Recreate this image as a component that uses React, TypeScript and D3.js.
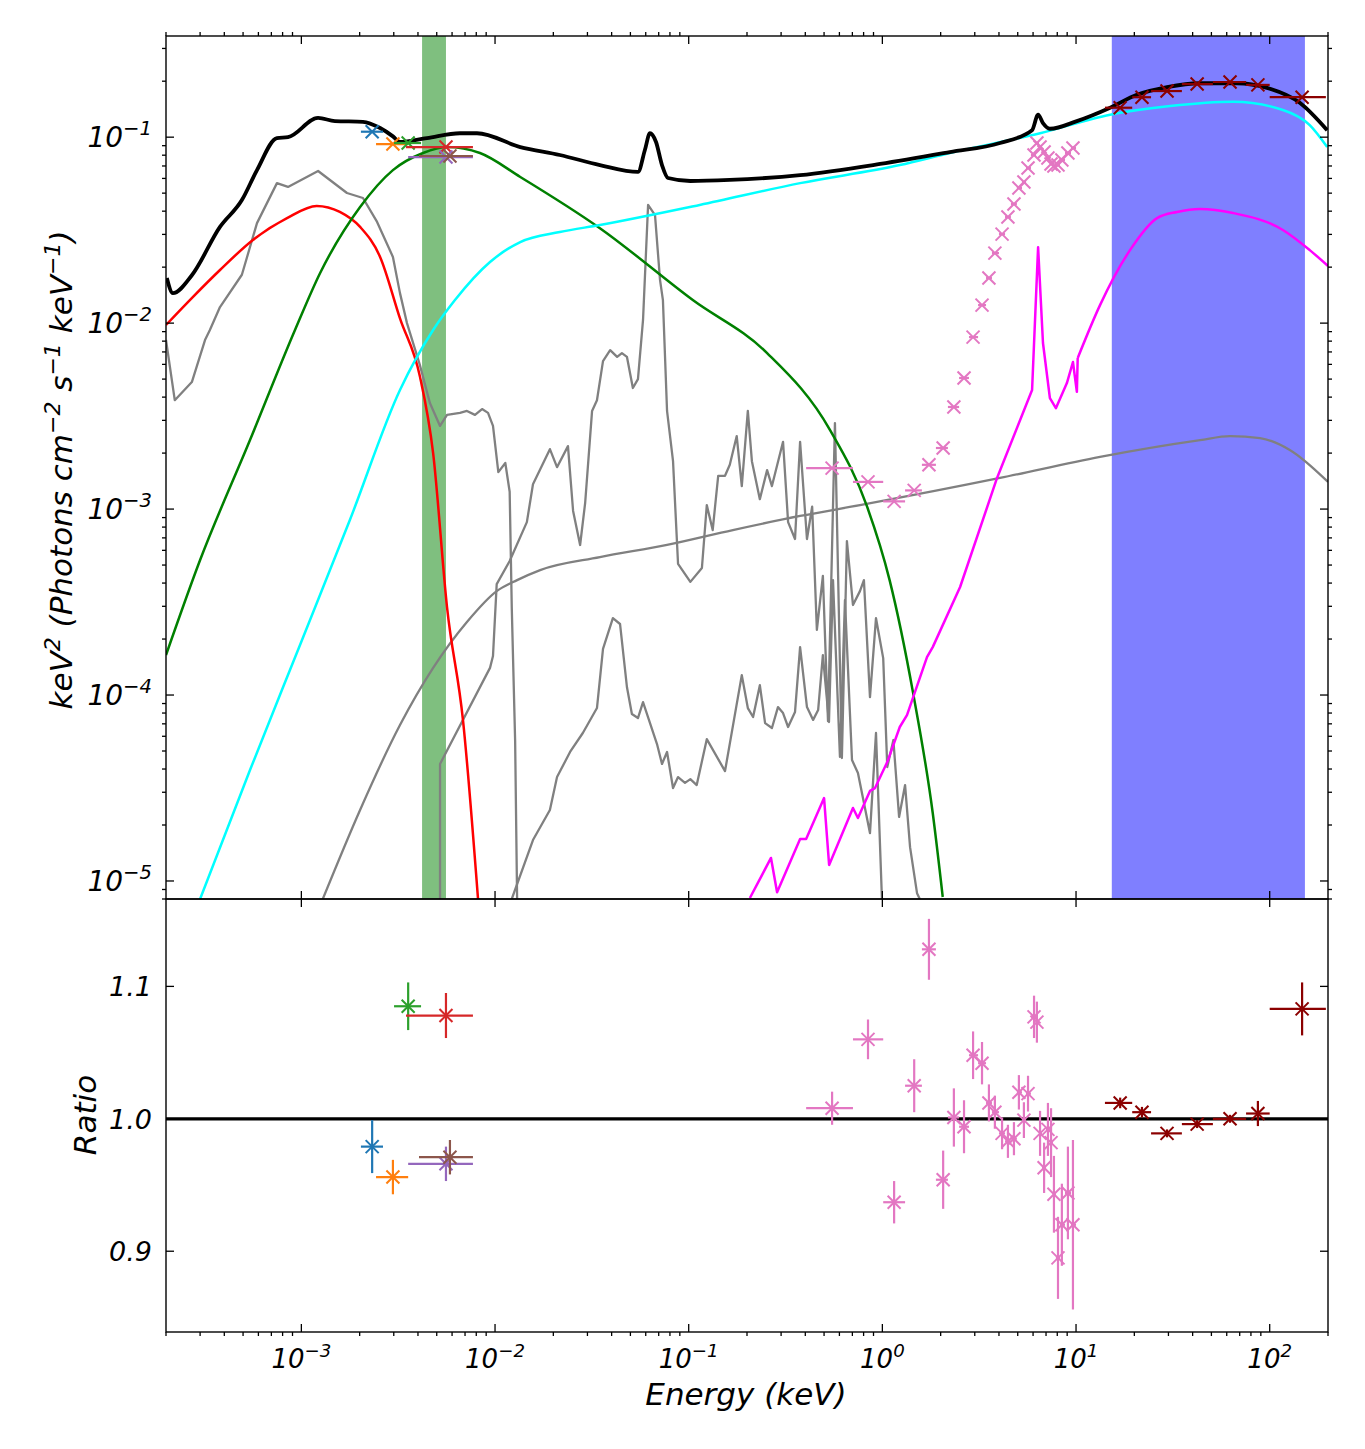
import React, { useEffect, useRef } from "react";
import * as d3 from "d3";

type Pt = [number, number];

// model components: [energy (keV), keV^2 (photons cm^-2 s^-1 keV^-1)]
const totalModel: Pt[] = [
  [2.02e-4, 0.0175], [2.17e-4, 0.0145], [2.72e-4, 0.0181], [3.8e-4, 0.0329], [4.93e-4, 0.0459],
  [5.9e-4, 0.0665], [7.48e-4, 0.0989], [8.53e-4, 0.1], [1.22e-3, 0.127], [1.49e-3, 0.122],
  [2.08e-3, 0.121], [2.55e-3, 0.112], [2.97e-3, 0.101], [3.23e-3, 0.0942], [4.45e-3, 0.0989],
  [6.59e-3, 0.105], [8.07e-3, 0.105], [0.0135, 0.0885], [0.0216, 0.0802], [0.0348, 0.0708],
  [0.0547, 0.065], [0.0594, 0.0853], [0.0631, 0.105], [0.0678, 0.0942], [0.0728, 0.0708],
  [0.0782, 0.0603], [0.102, 0.0581], [0.163, 0.0589], [0.376, 0.0625], [0.973, 0.0718],
  [2.23, 0.0832], [4.05, 0.0931], [5.93, 0.109], [6.37, 0.132], [6.75, 0.119], [7.33, 0.111],
  [10.1, 0.122], [15.0, 0.144], [20.6, 0.169], [29.5, 0.186], [43.7, 0.195], [67.8, 0.195],
  [96.8, 0.184], [143, 0.153], [198, 0.109],
];

const powerlawModel: Pt[] = [
  [3.0e-4, 8.0e-6], [5.43e-4, 3.95e-5], [9.84e-4, 1.86e-4], [1.78e-3, 8.73e-4], [3.23e-3, 4.37e-3],
  [4.79e-3, 9.18e-3], [6.21e-3, 0.0133], [9.42e-3, 0.0213], [0.0135, 0.0273], [0.0216, 0.0309],
  [0.0348, 0.0337], [0.114, 0.0432], [0.376, 0.0566], [1.23, 0.0708], [2.23, 0.0822],
  [6.52, 0.105], [15.0, 0.132], [30.6, 0.147], [64.6, 0.155], [117, 0.14], [161, 0.116], [198, 0.0885],
];

const diskModel: Pt[] = [
  [2.0e-4, 1.64e-4], [3.0e-4, 5.32e-4], [5.43e-4, 2.35e-3], [9.27e-4, 9.18e-3], [1.25e-3, 0.0186],
  [2.01e-3, 0.0421], [2.97e-3, 0.0665], [4.25e-3, 0.0822], [5.65e-3, 0.0885], [8.36e-3, 0.0822],
  [0.0135, 0.0611], [0.0348, 0.0324], [0.105, 0.0133], [0.254, 6.9e-3], [0.537, 2.66e-3],
  [0.834, 1.03e-3], [1.09, 4.15e-4], [1.44, 1.03e-4], [1.82, 2.32e-5], [2.05, 8.2e-6],
];

const hostModel: Pt[] = [
  [2.0e-4, 9.77e-3], [2.75e-4, 0.0138], [3.8e-4, 0.0193], [5.62e-4, 0.028], [8.43e-4, 0.0367],
  [1.2e-3, 0.0427], [1.58e-3, 0.0396], [2.01e-3, 0.0329], [2.55e-3, 0.0227], [3.23e-3, 0.0106],
  [4.1e-3, 5.13e-3], [4.79e-3, 2.0e-3], [5.65e-3, 2.97e-4], [6.84e-3, 7.24e-5], [8.17e-3, 8.0e-6],
];

const reflectModel: Pt[] = [
  [0.207, 8.1e-6], [0.266, 1.33e-5], [0.286, 8.7e-6], [0.376, 1.68e-5], [0.404, 1.68e-5],
  [0.5, 2.79e-5], [0.531, 1.22e-5], [0.705, 2.47e-5], [0.748, 2.18e-5], [0.863, 3.05e-5],
  [0.916, 3.16e-5], [1.06, 4.36e-5], [1.23, 6.73e-5], [1.34, 7.8e-5], [1.7, 1.6e-4], [1.82, 1.81e-4],
  [2.52, 3.81e-4], [3.91, 1.47e-3], [5.93, 4.37e-3], [6.37, 0.0256], [6.75, 7.82e-3], [7.33, 3.95e-3],
  [7.87, 3.49e-3], [8.97, 4.76e-3], [9.64, 6.18e-3], [10.1, 4.27e-3], [10.2, 6.49e-3], [13.3, 0.0125],
  [19.0, 0.0247], [26.2, 0.0367], [33.2, 0.0396], [43.7, 0.0411], [64.7, 0.0391], [117, 0.0317],
  [161, 0.0247], [200, 0.0203],
];

// grey components
const greyStellar: Pt[] = [
  [2.0e-4, 8.11e-3], [2.22e-4, 3.85e-3], [2.72e-4, 4.82e-3], [3.18e-4, 8.11e-3], [3.37e-4, 9.18e-3],
  [3.8e-4, 0.0122], [4.93e-4, 0.0182], [5.9e-4, 0.0345], [7.48e-4, 0.0566], [8.53e-4, 0.054],
  [1.22e-3, 0.0658], [1.72e-3, 0.0501], [2.08e-3, 0.0471], [2.46e-3, 0.035], [2.97e-3, 0.0227],
  [3.23e-3, 0.0145], [3.51e-3, 0.01], [4.09e-3, 5.96e-3], [4.61e-3, 3.72e-3], [5.2e-3, 2.8e-3],
  [5.65e-3, 3.21e-3], [6.59e-3, 3.29e-3], [7.16e-3, 3.37e-3], [7.88e-3, 3.21e-3], [8.57e-3, 3.45e-3],
  [9.2e-3, 3.29e-3], [9.76e-3, 2.8e-3], [0.0104, 1.58e-3], [0.0113, 1.77e-3], [0.0119, 1.24e-3],
  [0.0122, 2.97e-4], [0.0127, 5.66e-5], [0.013, 8.0e-6],
];

const greyLinesUpper: Pt[] = [
  [5.2e-3, 8.0e-6], [5.2e-3, 4.26e-5], [9.42e-3, 1.4e-4], [9.76e-3, 1.62e-4], [0.0102, 3.95e-4],
  [0.0119, 5.26e-4], [0.0146, 8.51e-4], [0.0157, 1.36e-3], [0.0192, 2.1e-3], [0.0209, 1.68e-3],
  [0.0238, 2.18e-3], [0.0253, 9.77e-4], [0.0275, 6.41e-4], [0.0292, 1.08e-3], [0.0317, 3.37e-3],
  [0.0336, 3.85e-3], [0.0361, 6.25e-3], [0.0393, 7.16e-3], [0.0427, 6.58e-3], [0.0452, 6.9e-3],
  [0.048, 6.58e-3], [0.0515, 4.48e-3], [0.0547, 5.0e-3], [0.0581, 0.0104], [0.0617, 0.0432],
  [0.067, 0.0381], [0.0711, 0.0171], [0.0736, 0.0133], [0.0773, 3.37e-3], [0.083, 1.81e-3],
  [0.0881, 5.07e-4], [0.102, 4.06e-4], [0.117, 4.82e-4], [0.124, 1.05e-3], [0.133, 7.71e-4],
  [0.142, 1.51e-3], [0.154, 1.51e-3], [0.163, 1.73e-3], [0.177, 2.47e-3], [0.188, 1.33e-3],
  [0.202, 3.37e-3], [0.212, 1.81e-3], [0.233, 1.13e-3], [0.254, 1.62e-3], [0.269, 1.33e-3],
  [0.307, 2.3e-3], [0.326, 8.51e-4], [0.354, 6.9e-4], [0.376, 2.3e-3], [0.408, 6.9e-4],
  [0.434, 1.03e-3], [0.459, 2.24e-4], [0.493, 4.37e-4], [0.524, 7.24e-5], [0.569, 2.9e-3],
  [0.618, 4.58e-5], [0.656, 6.73e-4], [0.705, 3.05e-4], [0.766, 3.62e-4], [0.803, 4.15e-4],
  [0.863, 9.75e-5], [0.927, 2.59e-4], [1.01, 1.58e-4], [1.06, 4.1e-5], [1.14, 5.73e-5],
  [1.22, 2.21e-5], [1.31, 3.28e-5], [1.39, 1.52e-5], [1.51, 8.6e-6], [1.56, 8.0e-6],
];

const greyLinesLower: Pt[] = [
  [0.0122, 8.0e-6], [0.0157, 1.66e-5], [0.0192, 2.41e-5], [0.0209, 3.62e-5], [0.0244, 4.94e-5],
  [0.0284, 6.25e-5], [0.0336, 8.51e-5], [0.0361, 1.77e-4], [0.0406, 2.59e-4], [0.0442, 2.41e-4],
  [0.048, 1.1e-4], [0.0509, 7.91e-5], [0.0547, 7.52e-5], [0.0581, 9.16e-5], [0.0686, 5.45e-5],
  [0.0728, 4.26e-5], [0.0773, 4.94e-5], [0.083, 3.16e-5], [0.0881, 3.62e-5], [0.0957, 3.37e-5],
  [0.102, 3.53e-5], [0.11, 3.28e-5], [0.124, 5.79e-5], [0.154, 3.9e-5], [0.188, 1.28e-4],
  [0.202, 8.51e-5], [0.215, 7.62e-5], [0.233, 1.13e-4], [0.248, 7.06e-5], [0.269, 6.65e-5],
  [0.289, 8.61e-5], [0.307, 8.0e-5], [0.326, 6.73e-5], [0.354, 8.11e-5], [0.376, 1.81e-4],
  [0.408, 8.61e-5], [0.439, 7.35e-5], [0.466, 8.3e-5], [0.493, 1.64e-4], [0.53, 7.16e-5],
  [0.556, 4.15e-4], [0.604, 4.65e-5], [0.641, 3.24e-4], [0.697, 4.47e-5], [0.748, 3.81e-5],
  [0.863, 1.81e-5], [0.927, 6.25e-5], [0.995, 8.0e-6],
];

const greyCutoffPL: Pt[] = [
  [1.29e-3, 8.0e-6], [2.01e-3, 2.41e-5], [3.23e-3, 6.9e-5], [4.79e-3, 1.4e-4], [7.16e-3, 2.47e-4],
  [0.0102, 3.62e-4], [0.013, 4.15e-4], [0.0171, 4.7e-4], [0.0348, 5.52e-4], [0.0773, 6.41e-4],
  [0.169, 7.71e-4], [0.376, 9.18e-4], [0.766, 1.05e-3], [4.05, 1.47e-3], [13.3, 1.91e-3],
  [43.7, 2.35e-3], [62.4, 2.47e-3], [89.1, 2.41e-3], [127, 2.08e-3], [200, 1.4e-3],
];

// shaded energy ranges
const bandLo = [4.2e-3, 15.3];
const bandHi = [5.58e-3, 152];
const bandColors = ["green", "blue"];

// UVOT filters
const uvotColors = ["#1f77b4", "#ff7f0e", "#2ca02c", "#d62728", "#9467bd", "#8c564b"];
const uvotE = [2.32e-3, 2.97e-3, 3.56e-3, 5.58e-3, 5.58e-3, 5.85e-3];
const uvotLo = [2.03e-3, 2.43e-3, 3.01e-3, 3.47e-3, 3.56e-3, 4.05e-3];
const uvotHi = [2.64e-3, 3.56e-3, 4.15e-3, 7.69e-3, 7.69e-3, 7.69e-3];
const uvotFlux = [0.107, 0.0918, 0.093, 0.0885, 0.0782, 0.0792];
const uvotRatio = [0.979, 0.956, 1.085, 1.078, 0.966, 0.971];
const uvotRatioErr = [0.02, 0.013, 0.018, 0.017, 0.013, 0.013];

// XRT spectrum
const xrtEdges = [
  0.404, 0.705, 1.01, 1.31, 1.6, 1.89, 2.18, 2.49, 2.8, 3.12, 3.43, 3.68, 4.0, 4.3, 4.61,
  4.95, 5.26, 5.52, 5.85, 6.21, 6.44, 6.67, 7.0, 7.33, 7.6, 7.87, 8.26, 8.77, 9.42, 10.0,
];
const xrtE = [
  0.55, 0.843, 1.15, 1.46, 1.74, 2.06, 2.34, 2.64, 2.94, 3.27, 3.55, 3.81, 4.15, 4.45, 4.78,
  5.07, 5.38, 5.65, 6.07, 6.28, 6.52, 6.84, 7.16, 7.43, 7.69, 8.07, 8.45, 9.08, 9.64,
];
const xrtFlux = [
  1.66e-3, 1.4e-3, 1.1e-3, 1.26e-3, 1.73e-3, 2.13e-3, 3.54e-3, 5.07e-3, 8.41e-3, 0.0125,
  0.0175, 0.0238, 0.0301, 0.0372, 0.0437, 0.0533, 0.0574, 0.0682, 0.0802, 0.093, 0.0885,
  0.0832, 0.0773, 0.0718, 0.07, 0.0708, 0.0754, 0.0822, 0.0875,
];
const xrtRatio = [
  1.008, 1.06, 0.937, 1.025, 1.128, 0.954, 1.001, 0.994, 1.048, 1.042, 1.012, 1.005, 0.989,
  0.983, 0.985, 1.02, 0.999, 1.019, 1.077, 1.073, 0.989, 0.963, 0.992, 0.982, 0.943, 0.895,
  0.92, 0.944, 0.92,
];
const xrtRatioErr = [
  0.0125, 0.015, 0.016, 0.02, 0.023, 0.022, 0.022, 0.02, 0.018, 0.016, 0.014, 0.0125, 0.012,
  0.0125, 0.0125, 0.013, 0.0135, 0.0135, 0.016, 0.0155, 0.017, 0.019, 0.02, 0.026, 0.029,
  0.031, 0.031, 0.035, 0.064,
];

// BAT spectrum
const batEdges = [14.1, 19.5, 24.4, 35.2, 50.9, 75.5, 100, 195];
const batE = [16.9, 21.9, 29.5, 42.2, 62.4, 86.9, 147];
const batFlux = [0.144, 0.164, 0.177, 0.193, 0.198, 0.191, 0.164];
const batRatio = [1.012, 1.005, 0.989, 0.996, 1.0, 1.004, 1.083];
const batRatioErr = [0.004, 0.004, 0.003, 0.003, 0.003, 0.0095, 0.02];

const xDecades = [1e-3, 1e-2, 1e-1, 1, 10, 100];
const yDecades = [1e-5, 1e-4, 1e-3, 1e-2, 1e-1];
const ratioTicks = [0.9, 1.0, 1.1];

const W = 1365;
const H = 1449;
const L = 166;
const R = 1328;
const T = 36;
const MID = 899;
const B = 1332;
const FONT = "'DejaVu Sans', sans-serif";

const expText = (v: number) => {
  const e = Math.round(Math.log10(v));
  return e < 0 ? "\u2212" + Math.abs(e) : String(e);
};

export default function App() {
  const svgRef = useRef<SVGSVGElement>(null);

  useEffect(() => {
    const svg = d3.select(svgRef.current);
    svg.selectAll("*").remove();

    const x = d3.scaleLog().domain([2e-4, 200]).range([L, R]);
    const y = d3.scaleLog().domain([8e-6, 0.35]).range([MID, T]);
    const yr = d3.scaleLinear().domain([0.839, 1.166]).range([B, MID]);

    svg.append("rect").attr("width", W).attr("height", H).attr("fill", "white");

    const defs = svg.append("defs");
    defs.append("clipPath").attr("id", "clip-top")
      .append("rect").attr("x", L).attr("y", T).attr("width", R - L).attr("height", MID - T);
    defs.append("clipPath").attr("id", "clip-bot")
      .append("rect").attr("x", L).attr("y", MID).attr("width", R - L).attr("height", B - MID);

    const top = svg.append("g").attr("clip-path", "url(#clip-top)");
    const bot = svg.append("g").attr("clip-path", "url(#clip-bot)");

    // shaded bands
    bandLo.forEach((lo, i) => {
      top.append("rect")
        .attr("x", x(lo)).attr("y", T)
        .attr("width", x(bandHi[i]) - x(lo)).attr("height", MID - T)
        .attr("fill", bandColors[i]).attr("fill-opacity", 0.5);
    });

    const smooth = d3.line<Pt>().x((d) => x(d[0])).y((d) => y(d[1])).curve(d3.curveMonotoneX);
    const jagged = d3.line<Pt>().x((d) => x(d[0])).y((d) => y(d[1]));

    // reflection: line-rich part drawn straight, Compton hump smooth
    const reflectLines = reflectModel.filter((d) => d[0] <= 10.2);
    const reflectHump = reflectModel.filter((d) => d[0] >= 10.2);

    const curves: { data: Pt[]; color: string; w: number; gen: typeof smooth }[] = [
      { data: greyStellar, color: "gray", w: 2.3, gen: jagged },
      { data: greyLinesUpper, color: "gray", w: 2.3, gen: jagged },
      { data: greyLinesLower, color: "gray", w: 2.3, gen: jagged },
      { data: greyCutoffPL, color: "gray", w: 2.3, gen: smooth },
      { data: hostModel, color: "red", w: 2.5, gen: smooth },
      { data: diskModel, color: "green", w: 2.5, gen: smooth },
      { data: powerlawModel, color: "cyan", w: 2.5, gen: smooth },
      { data: reflectLines, color: "magenta", w: 2.5, gen: jagged },
      { data: reflectHump, color: "magenta", w: 2.5, gen: smooth },
      { data: totalModel, color: "black", w: 3.8, gen: smooth },
    ];
    curves.forEach((c) => {
      top.append("path").attr("d", c.gen(c.data))
        .attr("fill", "none").attr("stroke", c.color)
        .attr("stroke-width", c.w).attr("stroke-linejoin", "round");
    });

    // ratio = 1 reference
    bot.append("line").attr("x1", L).attr("x2", R).attr("y1", yr(1)).attr("y2", yr(1))
      .attr("stroke", "black").attr("stroke-width", 3.2);

    const seg = (g: any, x1: number, y1: number, x2: number, y2: number, color: string, w = 2.2) =>
      g.append("line").attr("x1", x1).attr("y1", y1).attr("x2", x2).attr("y2", y2)
        .attr("stroke", color).attr("stroke-width", w);

    const cross = (g: any, cx: number, cy: number, color: string, s = 6.5) => {
      seg(g, cx - s, cy - s, cx + s, cy + s, color, 2);
      seg(g, cx - s, cy + s, cx + s, cy - s, color, 2);
    };

    const point = (e: number, lo: number, hi: number, f: number, r: number, rErr: number, color: string) => {
      seg(top, x(lo), y(f), x(hi), y(f), color);
      cross(top, x(e), y(f), color);
      seg(bot, x(lo), yr(r), x(hi), yr(r), color);
      seg(bot, x(e), yr(r - rErr), x(e), yr(r + rErr), color);
      cross(bot, x(e), yr(r), color);
    };

    uvotE.forEach((e, i) =>
      point(e, uvotLo[i], uvotHi[i], uvotFlux[i], uvotRatio[i], uvotRatioErr[i], uvotColors[i]));
    xrtE.forEach((e, i) =>
      point(e, xrtEdges[i], xrtEdges[i + 1], xrtFlux[i], xrtRatio[i], xrtRatioErr[i], "#e377c2"));
    batE.forEach((e, i) =>
      point(e, batEdges[i], batEdges[i + 1], batFlux[i], batRatio[i], batRatioErr[i], "#8b0000"));

    // frames
    const axes = svg.append("g");
    [[T, MID], [MID, B]].forEach(([a, b]) => {
      axes.append("rect").attr("x", L).attr("y", a).attr("width", R - L).attr("height", b - a)
        .attr("fill", "none").attr("stroke", "black").attr("stroke-width", 1.4);
    });

    const tk = (x1: number, y1: number, x2: number, y2: number) =>
      seg(axes, x1, y1, x2, y2, "black", 1.3);

    const isDecade = (v: number) => Math.abs(Math.log10(v) - Math.round(Math.log10(v))) < 1e-6;
    const xMinor = x.ticks().filter((v) => !isDecade(v));
    const yMinor = y.ticks().filter((v) => !isDecade(v));

    // x ticks
    xDecades.forEach((v) => {
      const px = x(v);
      tk(px, T, px, T + 8);
      tk(px, MID, px, MID - 8);
      tk(px, MID, px, MID + 8);
      tk(px, B, px, B - 8);
    });
    xMinor.forEach((v) => {
      const px = x(v);
      tk(px, T, px, T - 4);
      tk(px, B, px, B + 4);
    });

    // y ticks, upper panel
    yDecades.forEach((v) => {
      const py = y(v);
      tk(L, py, L + 8, py);
      tk(R, py, R - 8, py);
    });
    yMinor.forEach((v) => {
      const py = y(v);
      tk(L, py, L - 4, py);
      tk(R, py, R + 4, py);
    });

    // y ticks, ratio panel
    ratioTicks.forEach((v) => {
      tk(L, yr(v), L + 8, yr(v));
      tk(R, yr(v), R - 8, yr(v));
    });

    const txt = (px: number, py: number, anchor: string, size: number) =>
      axes.append("text").attr("x", px).attr("y", py).attr("text-anchor", anchor)
        .attr("font-family", FONT).attr("font-style", "italic").attr("font-size", size)
        .attr("fill", "black");

    const powLabel = (px: number, py: number, anchor: string, v: number, size: number) => {
      const t = txt(px, py, anchor, size);
      t.append("tspan").text("10");
      t.append("tspan").attr("dy", -size * 0.42).attr("font-size", size * 0.7).text(expText(v));
    };

    yDecades.forEach((v) => powLabel(152, y(v) + 10, "end", v, 28));
    xDecades.forEach((v) => powLabel(x(v), 1368, "middle", v, 26));
    ratioTicks.forEach((v) => txt(152, yr(v) + 10, "end", 27).text(v.toFixed(1)));

    txt(746, 1405, "middle", 31).text("Energy (keV)");

    // y-axis label with superscripts
    const yl = txt(0, 0, "middle", 31).attr("transform", "translate(72,470) rotate(-90)");
    const parts: [string, boolean][] = [
      ["keV", false], ["2", true], [" (Photons cm", false], ["\u22122", true], [" s", false],
      ["\u22121", true], [" keV", false], ["\u22121", true], [")", false],
    ];
    let raised = false;
    parts.forEach(([s, sup]) => {
      const sp = yl.append("tspan").text(s);
      if (sup && !raised) sp.attr("dy", -12).attr("font-size", 22);
      else if (sup) sp.attr("font-size", 22);
      else if (raised) sp.attr("dy", 12);
      raised = sup;
    });

    txt(0, 0, "middle", 31).attr("transform", "translate(96,1115) rotate(-90)").text("Ratio");
  }, []);

  return (
    <div style={{ position: "absolute", left: 0, top: 0 }}>
      <svg ref={svgRef} width={W} height={H} />
    </div>
  );
}
